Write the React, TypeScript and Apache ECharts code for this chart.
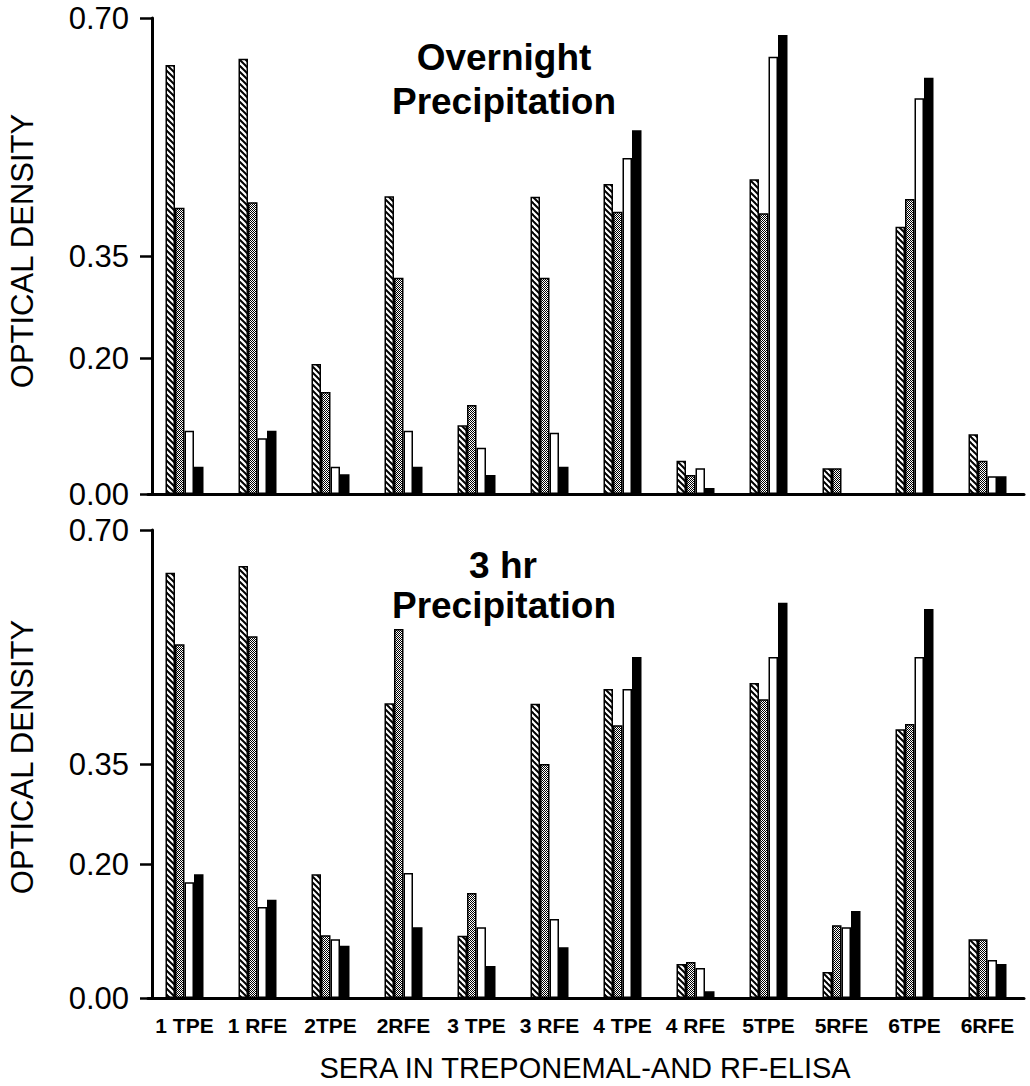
import React, { useEffect, useRef } from "react";
import * as echarts from "echarts";

const categories = ["1 TPE", "1 RFE", "2TPE", "2RFE", "3 TPE", "3 RFE", "4 TPE", "4 RFE", "5TPE", "5RFE", "6TPE", "6RFE"];
const yTicks = [0, 0.2, 0.35, 0.7];

// Overnight precipitation
const onHatched = [0.631, 0.64, 0.191, 0.438, 0.101, 0.437, 0.456, 0.049, 0.463, 0.038, 0.393, 0.088];
const onDotted = [0.421, 0.429, 0.15, 0.318, 0.131, 0.318, 0.415, 0.028, 0.413, 0.038, 0.434, 0.049];
const onOpen = [0.093, 0.082, 0.04, 0.093, 0.068, 0.09, 0.494, 0.038, 0.643, 0, 0.582, 0.026];
const onSolid = [0.04, 0.093, 0.029, 0.04, 0.028, 0.04, 0.535, 0.009, 0.675, 0, 0.612, 0.026];

// 3 hr precipitation
const hrHatched = [0.636, 0.646, 0.185, 0.441, 0.093, 0.44, 0.462, 0.051, 0.471, 0.039, 0.402, 0.088];
const hrDotted = [0.529, 0.541, 0.094, 0.552, 0.157, 0.35, 0.408, 0.054, 0.447, 0.109, 0.41, 0.088];
const hrOpen = [0.173, 0.136, 0.088, 0.187, 0.106, 0.118, 0.462, 0.045, 0.51, 0.106, 0.51, 0.057];
const hrSolid = [0.185, 0.147, 0.078, 0.106, 0.048, 0.076, 0.51, 0.01, 0.591, 0.13, 0.582, 0.051];

const FONT = "'Liberation Sans', Arial, Helvetica, sans-serif";

function makeHatch() {
  const s = 6;
  const c = document.createElement("canvas");
  c.width = s;
  c.height = s;
  const ctx = c.getContext("2d")!;
  ctx.fillStyle = "#fff";
  ctx.fillRect(0, 0, s, s);
  ctx.strokeStyle = "#000";
  ctx.lineWidth = 2;
  for (const o of [-s, 0, s]) {
    ctx.beginPath();
    ctx.moveTo(o - 1, -1);
    ctx.lineTo(o + s + 1, s + 1);
    ctx.stroke();
  }
  return c;
}

function makeDots() {
  const s = 4;
  const c = document.createElement("canvas");
  c.width = s;
  c.height = s;
  const ctx = c.getContext("2d")!;
  ctx.fillStyle = "#fff";
  ctx.fillRect(0, 0, s, s);
  ctx.fillStyle = "#000";
  for (let x = 0; x < s; x++) {
    for (let y = 0; y < s; y++) {
      if ((x + y) % 2 === 0) ctx.fillRect(x, y, 1, 1);
    }
  }
  return c;
}

export default function App() {
  const ref = useRef<HTMLDivElement>(null);
  useEffect(() => {
    if (!ref.current) return;
    const chart = echarts.init(ref.current, undefined, { renderer: "svg" });
    const hatch = makeHatch();
    const dots = makeDots();
    const hatchFill: any = { image: hatch, repeat: "repeat", imageWidth: 6, imageHeight: 6 };
    const dotFill: any = { image: dots, repeat: "repeat", imageWidth: 4, imageHeight: 4 };

    const gridLeft = 148;
    const gridWidth = 876;
    const grids = [
      { left: gridLeft, top: 18, width: gridWidth, height: 476 },
      { left: gridLeft, top: 530, width: gridWidth, height: 468 },
    ];

    const xAxes = [0, 1].map((i) => ({
      type: "category",
      gridIndex: i,
      data: categories,
      axisLine: { show: true, lineStyle: { color: "#000", width: 3 } },
      axisTick: { show: false },
      axisLabel: {
        show: i === 1,
        color: "#000",
        fontFamily: FONT,
        fontWeight: "bold",
        fontSize: 21,
        margin: 17,
        interval: 0,
      },
    }));

    const yAxes = [0, 1].map((i) => ({
      type: "value",
      gridIndex: i,
      min: 0,
      max: 0.7,
      offset: -4,
      splitLine: { show: false },
      axisLine: { show: true, lineStyle: { color: "#000", width: 3 } },
      axisTick: { show: true, length: 12, customValues: yTicks, lineStyle: { color: "#000", width: 2.5 } },
      axisLabel: {
        customValues: yTicks,
        formatter: (v: number) => v.toFixed(2),
        color: "#000",
        fontFamily: FONT,
        fontSize: 31,
        margin: 23,
      },
    }));

    const mk = (name: string, data: number[], idx: number, color: any) => ({
      name,
      type: "bar",
      xAxisIndex: idx,
      yAxisIndex: idx,
      data,
      barWidth: 9.5,
      barGap: "0%",
      itemStyle: { color, borderColor: "#000", borderWidth: 1.5 },
    });

    const series = [
      mk("Hatched", onHatched, 0, hatchFill),
      mk("Cross-hatched", onDotted, 0, dotFill),
      mk("Open", onOpen, 0, "#fff"),
      mk("Solid", onSolid, 0, "#000"),
      mk("Hatched", hrHatched, 1, hatchFill),
      mk("Cross-hatched", hrDotted, 1, dotFill),
      mk("Open", hrOpen, 1, "#fff"),
      mk("Solid", hrSolid, 1, "#000"),
    ];

    const titleStyle = (text: string) => ({
      text,
      font: `bold 37px ${FONT}`,
      fill: "#000",
      textAlign: "center",
      textVerticalAlign: "middle",
    });

    const nameStyle = (text: string) => ({
      text,
      font: `31px ${FONT}`,
      fill: "#000",
      textAlign: "center",
      textVerticalAlign: "middle",
    });

    const graphic = [
      { type: "text", x: 504, y: 57, style: titleStyle("Overnight") },
      { type: "text", x: 504, y: 101, style: titleStyle("Precipitation") },
      { type: "text", x: 503, y: 565, style: titleStyle("3 hr") },
      { type: "text", x: 504, y: 605, style: titleStyle("Precipitation") },
      { type: "text", x: 22, y: 251, rotation: Math.PI / 2, style: nameStyle("OPTICAL DENSITY") },
      { type: "text", x: 22, y: 757, rotation: Math.PI / 2, style: nameStyle("OPTICAL DENSITY") },
      {
        type: "text",
        x: 585,
        y: 1068,
        style: { text: "SERA IN TREPONEMAL-AND RF-ELISA", font: `29px ${FONT}`, fill: "#000", textAlign: "center", textVerticalAlign: "middle" },
      },
    ];

    chart.setOption({
      animation: false,
      backgroundColor: "#fff",
      grid: grids,
      xAxis: xAxes,
      yAxis: yAxes,
      series,
      graphic,
    } as any);
    return () => chart.dispose();
  }, []);
  return <div ref={ref} style={{ position: "absolute", left: 0, top: 0, width: 1030, height: 1086 }} />;
}
